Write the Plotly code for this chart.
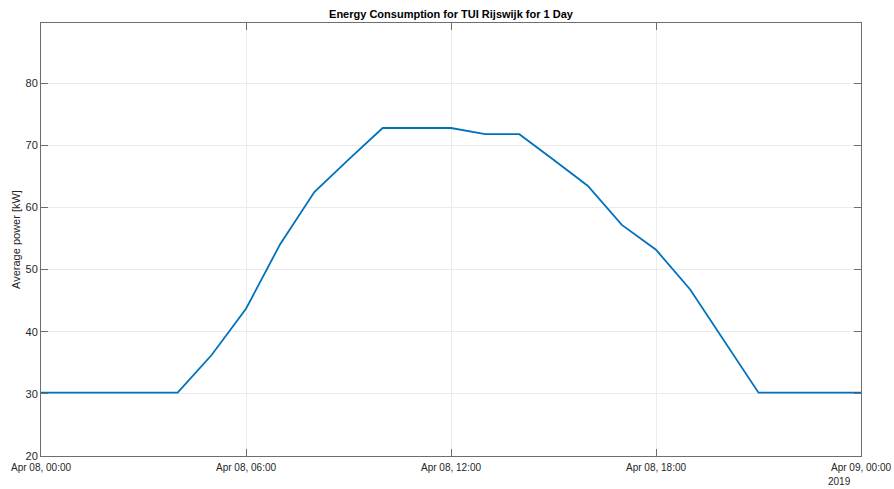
import plotly.graph_objects as go
import pandas as pd

# Hourly average power for one day (Apr 08, 2019)
hours = list(range(0, 25))
power_kw = [30.2, 30.2, 30.2, 30.2, 30.2, 36.3, 43.7, 54.1, 62.5, 67.7,
            72.8, 72.8, 72.8, 71.8, 71.8, 67.7, 63.5, 57.2, 53.2, 46.8,
            38.5, 30.2, 30.2, 30.2, 30.2]

tick_hours = [0, 6, 12, 18, 24]
tick_labels = ["Apr 08, 00:00", "Apr 08, 06:00", "Apr 08, 12:00",
               "Apr 08, 18:00", "Apr 09, 00:00"]
year_label = "2019"
y_ticks = [20, 30, 40, 50, 60, 70, 80]
y_range = [20, 89.7]

start = pd.Timestamp("2019-04-08 00:00")
times = [start + pd.Timedelta(hours=h) for h in hours]
tick_times = [start + pd.Timedelta(hours=h) for h in tick_hours]

axis_color = "#6e6e6e"
text_color = "#262626"
grid_color = "#ebebeb"
font_family = "Liberation Sans, Arial, sans-serif"

fig = go.Figure()
fig.add_trace(go.Scatter(
    x=times, y=power_kw, mode="lines",
    line=dict(color="#0072BD", width=1.8),
    showlegend=False,
))

fig.update_layout(
    width=894, height=489,
    margin=dict(l=41, r=33, t=23, b=33, autoexpand=False),
    paper_bgcolor="white", plot_bgcolor="white",
    font=dict(family=font_family, size=10, color=text_color),
    title=dict(
        text="<b>Energy Consumption for TUI Rijswijk for 1 Day</b>",
        x=451 / 894, xanchor="center",
        y=1 - 14 / 489, yanchor="middle",
        font=dict(size=11, color="#000000", family=font_family),
    ),
)

fig.update_xaxes(
    range=[tick_times[0], tick_times[-1]],
    tickmode="array", tickvals=tick_times, ticktext=tick_labels,
    ticks="inside", ticklen=7, tickwidth=1, tickcolor=axis_color,
    showline=True, linecolor=axis_color, linewidth=1, mirror="ticks",
    showgrid=True, gridcolor=grid_color, gridwidth=1,
    zeroline=False, tickfont=dict(size=10, color=text_color),
    ticklabelstandoff=2, automargin=False,
)
fig.update_yaxes(
    range=y_range, tickmode="array", tickvals=y_ticks,
    ticks="inside", ticklen=7, tickwidth=1, tickcolor=axis_color,
    showline=True, linecolor=axis_color, linewidth=1, mirror="ticks",
    showgrid=True, gridcolor=grid_color, gridwidth=1,
    zeroline=False, tickfont=dict(size=11, color=text_color),
    automargin=False,
    title=dict(text="Average power [kW]", font=dict(size=11, color=text_color),
               standoff=2),
)

fig.add_annotation(
    text=year_label, xref="paper", yref="paper", x=1, y=0,
    xanchor="right", yanchor="top", xshift=-8, yshift=-18,
    showarrow=False, font=dict(size=10, color=text_color),
)

fig.write_html("out.html")
